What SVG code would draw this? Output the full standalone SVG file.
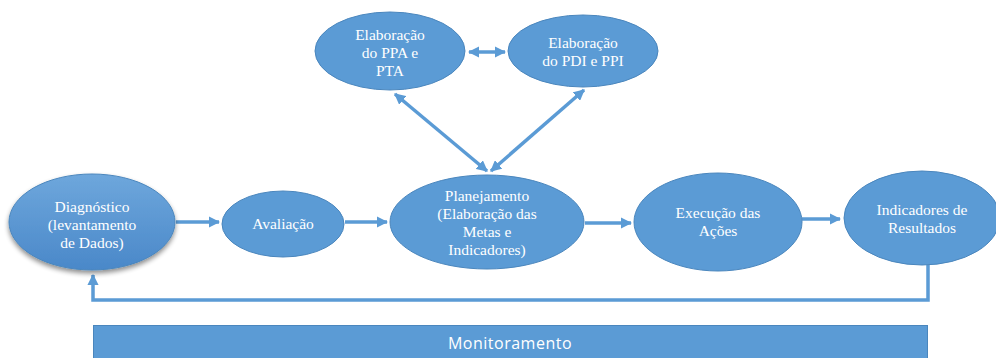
<svg xmlns="http://www.w3.org/2000/svg" width="996" height="358" viewBox="0 0 996 358">
<style>
.node ellipse{fill:#5b9bd5;stroke:#4a86bd;stroke-width:1}
.lbl{font-family:"Liberation Serif","Times New Roman",serif;font-size:15.5px;fill:#ffffff;text-anchor:middle}
.conn{stroke:#5b9bd5;stroke-width:3.5;fill:none}
.mon{font-family:"Open Sans","Liberation Sans",sans-serif;font-size:16px;letter-spacing:0.5px;fill:#ffffff;text-anchor:middle}
</style>
<defs>
<marker id="ah" viewBox="0 0 10 10" refX="9" refY="5" markerWidth="3.2" markerHeight="3.2" orient="auto-start-reverse" markerUnits="strokeWidth">
<path d="M0,0 L10,5 L0,10 z" fill="#5b9bd5"/>
</marker>
<linearGradient id="gd" x1="0" y1="0" x2="0" y2="1">
<stop offset="0" stop-color="#6ea7dc"/>
<stop offset="1" stop-color="#4a88c9"/>
</linearGradient>
<filter id="sh" x="-20%" y="-20%" width="140%" height="150%">
<feGaussianBlur in="SourceAlpha" stdDeviation="2.5"/>
<feOffset dx="0" dy="3" result="b"/>
<feComponentTransfer><feFuncA type="linear" slope="0.45"/></feComponentTransfer>
<feMerge><feMergeNode/><feMergeNode in="SourceGraphic"/></feMerge>
</filter>
</defs>
<rect width="996" height="358" fill="#ffffff"/>
<g id="connectors">
<line class="conn" x1="176" y1="222" x2="219" y2="222" marker-end="url(#ah)"/>
<line class="conn" x1="345" y1="222" x2="387" y2="222" marker-end="url(#ah)"/>
<line class="conn" x1="585" y1="223" x2="631" y2="223" marker-end="url(#ah)"/>
<line class="conn" x1="802" y1="219" x2="840" y2="219" marker-end="url(#ah)"/>
<line class="conn" x1="469" y1="52" x2="505" y2="52" marker-start="url(#ah)" marker-end="url(#ah)"/>
<line class="conn" x1="395" y1="94" x2="487" y2="171" marker-start="url(#ah)" marker-end="url(#ah)"/>
<line class="conn" x1="584" y1="90" x2="491" y2="171" marker-start="url(#ah)" marker-end="url(#ah)"/>
<polyline class="conn" points="928,265 928,300 93,300 93,275" marker-end="url(#ah)"/>
</g>
<g id="diagnostico" class="node">
<ellipse cx="92" cy="222" rx="83" ry="48" style="fill:url(#gd)" filter="url(#sh)"/>
<text class="lbl" x="92" y="212">Diagnóstico</text>
<text class="lbl" x="92" y="230">(levantamento</text>
<text class="lbl" x="92" y="248">de Dados)</text>
</g>
<g id="avaliacao" class="node">
<ellipse cx="283" cy="224" rx="61" ry="33"/>
<text class="lbl" x="283" y="229">Avaliação</text>
</g>
<g id="planejamento" class="node">
<ellipse cx="487" cy="222" rx="97" ry="47"/>
<text class="lbl" x="487" y="201">Planejamento</text>
<text class="lbl" x="487" y="219">(Elaboração das</text>
<text class="lbl" x="487" y="237">Metas e</text>
<text class="lbl" x="487" y="255">Indicadores)</text>
</g>
<g id="execucao" class="node">
<ellipse cx="718" cy="222" rx="84" ry="49"/>
<text class="lbl" x="718" y="218">Execução das</text>
<text class="lbl" x="718" y="236">Ações</text>
</g>
<g id="indicadores" class="node">
<ellipse cx="922" cy="218" rx="78" ry="47"/>
<text class="lbl" x="922" y="215">Indicadores de</text>
<text class="lbl" x="922" y="233">Resultados</text>
</g>
<g id="ppa" class="node">
<ellipse cx="390" cy="51" rx="75" ry="39"/>
<text class="lbl" x="390" y="40">Elaboração</text>
<text class="lbl" x="390" y="58">do PPA e</text>
<text class="lbl" x="390" y="76">PTA</text>
</g>
<g id="pdi" class="node">
<ellipse cx="583" cy="51" rx="75" ry="36"/>
<text class="lbl" x="583" y="48">Elaboração</text>
<text class="lbl" x="583" y="66">do PDI e PPI</text>
</g>
<g id="monitoramento">
<rect x="93.5" y="325.5" width="834" height="40" fill="#5b9bd5" stroke="#4a86bd" stroke-width="1"/>
<text class="mon" x="510" y="349">Monitoramento</text>
</g>
</svg>
